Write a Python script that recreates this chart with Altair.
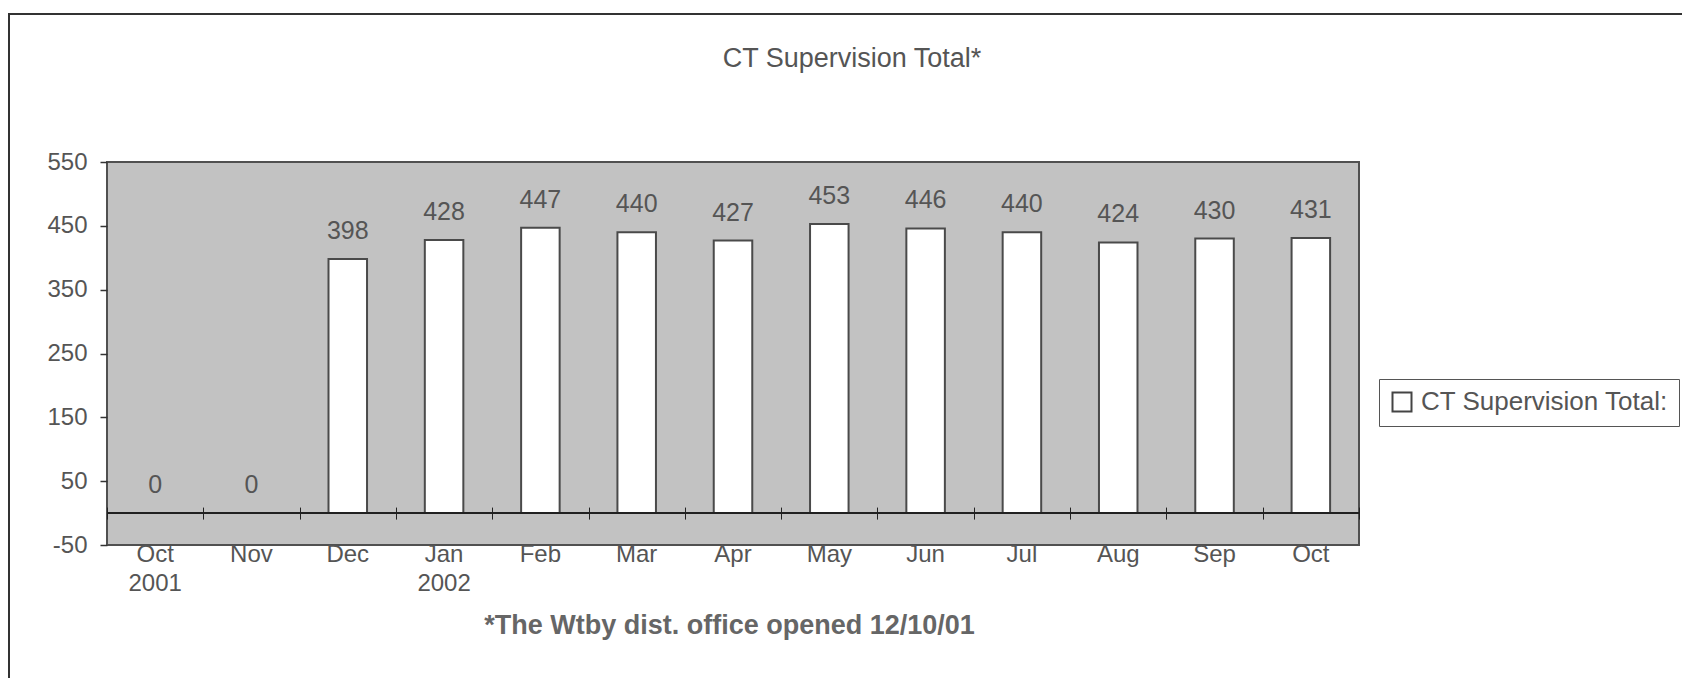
import altair as alt
import pandas as pd

# ---- data ----
months = ["Oct", "Nov", "Dec", "Jan", "Feb", "Mar", "Apr", "May", "Jun", "Jul", "Aug", "Sep", "Oct"]
years = ["2001", "", "", "2002", "", "", "", "", "", "", "", "", ""]
values = [0, 0, 398, 428, 447, 440, 427, 453, 446, 440, 424, 430, 431]
y_ticks = [-50, 50, 150, 250, 350, 450, 550]
series_name = "CT Supervision Total:"
title_text = "CT Supervision Total*"
footnote = "*The Wtby dist. office opened 12/10/01"

keys = [f"{m}|{y}" for m, y in zip(months, years)]
df = pd.DataFrame({"key": keys, "value": values, "series": [series_name] * len(values)})

W, H = 1252, 383
FONT = "Liberation Sans"
TXT = "#555555"
zero_px = H * 50 / 600  # distance from bottom edge to zero line

yscale = alt.Scale(domain=[-50, 550], nice=False, zero=False)
yaxis = alt.Axis(values=y_ticks, title=None, domain=False, grid=False, tickSize=7,
                 tickColor="#333333", tickWidth=1.5, labelFontSize=24, labelFont=FONT,
                 labelColor=TXT, labelPadding=13, labelBaseline="middle",
                 labelExpr="datum.value + ''")
xscale = alt.Scale(paddingInner=0, paddingOuter=0)

base = alt.Chart(df)

bars = base.mark_bar(width=alt.RelativeBandSize(0.4), stroke="#4a4a4a", strokeWidth=2).encode(
    x=alt.X("key:N", sort=keys, scale=xscale,
            axis=alt.Axis(orient="bottom", title=footnote, ticks=False, tickSize=0, domain=False,
                          labelExpr="split(datum.label, '|')", labelFontSize=24, labelFont=FONT,
                          labelColor=TXT, labelPadding=-3, labelBaseline="top", labelLineHeight=29,
                          labelAngle=0, titleFont=FONT, titleFontSize=27, titleFontWeight="bold",
                          titleColor="#666666", titleX=622, titleY=88, titleAlign="center",
                          titleBaseline="alphabetic")),
    y=alt.Y("value:Q", scale=yscale, axis=yaxis),
    y2=alt.datum(0),
    color=alt.Color("series:N", scale=alt.Scale(range=["white"]),
                    legend=alt.Legend(orient="none", legendX=1272, legendY=217, title=None,
                                      symbolType="square", symbolSize=361,
                                      symbolStrokeColor="#444444", symbolStrokeWidth=2,
                                      labelFontSize=26, labelFont=FONT, labelColor=TXT,
                                      labelOffset=6, labelLimit=400, strokeColor="#555555",
                                      fillColor="white", padding=10)),
)

labels = base.mark_text(dy=-20, baseline="alphabetic", fontSize=25, font=FONT, color=TXT).encode(
    x=alt.X("key:N", sort=keys, scale=xscale,
            axis=alt.Axis(orient="bottom", offset=-(zero_px + 6), tickBand="extent", tickSize=12,
                          tickColor="#222222", tickWidth=1, labels=False, domain=False,
                          title=None, grid=False)),
    y=alt.Y("value:Q", scale=yscale, axis=yaxis),
    text=alt.Text("value:Q"),
)

zero_line = base.mark_rule(color="#222222", strokeWidth=1).encode(y=alt.datum(0))

# frame lines of the printed page (decoration, outside the plot)
frame_top = base.mark_rule(color="#333333", strokeWidth=1.5).encode(
    x=alt.value(-99), x2=alt.value(1575), y=alt.value(-148))
frame_left = base.mark_rule(color="#333333", strokeWidth=1.5).encode(
    x=alt.value(-98), y=alt.value(-148), y2=alt.value(516))

chart = (
    alt.layer(bars, zero_line, labels, frame_top, frame_left)
    .resolve_axis(x="independent")
    .properties(
        width=W, height=H,
        autosize=alt.AutoSizeParams(type="none"),
        padding={"left": 99, "top": 154, "right": 323, "bottom": 133},
        title=alt.Title(title_text, anchor="middle", dx=119, offset=-81, fontSize=27,
                        baseline="alphabetic", font=FONT, color=TXT, fontWeight="normal"),
        background="white",
    )
    .configure_view(fill="#c2c2c2", stroke="#505050", strokeWidth=2)
)

chart.save("out.html", embed_options={"renderer": "svg", "actions": False})
